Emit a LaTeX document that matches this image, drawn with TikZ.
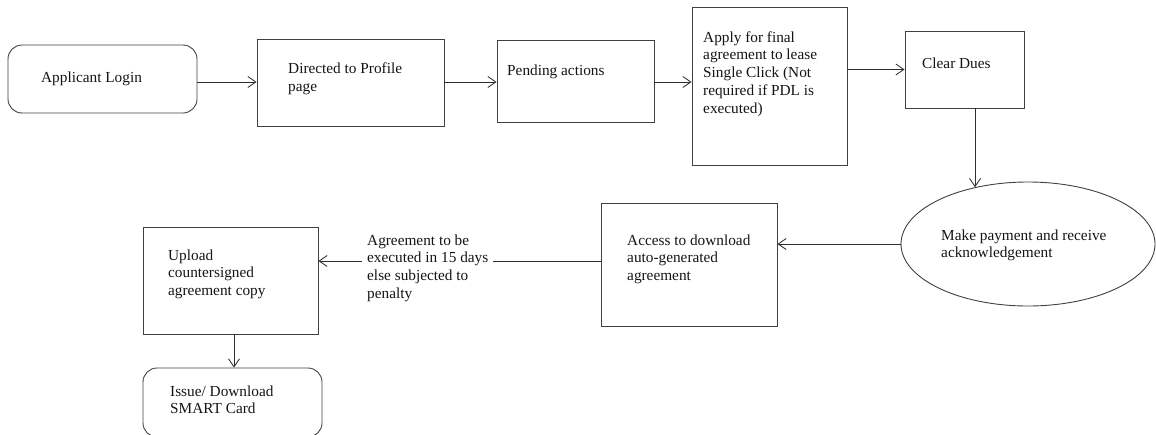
\documentclass[tikz,border=0pt]{standalone}
\usepackage{fontspec}
\setmainfont{Liberation Serif}
\usetikzlibrary{arrows.meta,shapes.geometric}
\newcommand{\topstrut}{\rule{0pt}{12pt}}
\begin{document}
\begin{tikzpicture}[x=1pt,y=-1pt,
  box/.style={draw=black!75, line width=0.9pt, rectangle, inner sep=0pt},
  txt/.style={anchor=north west, inner sep=0pt, align=left, text=black!92, font=\fontsize{15.3}{17.7}\selectfont},
  arr/.style={draw=black!82, line width=0.85pt, -{Straight Barb[length=8pt,width=11pt,line width=0.85pt]}},
  ln/.style={draw=black!82, line width=0.85pt}]
\useasboundingbox (0,0) rectangle (1156,434);
% shapes
\node[box, rounded corners=14pt, minimum width=189pt, minimum height=68pt] (login) at (102.5,79) {};
\node[box, minimum width=187pt, minimum height=87pt] (dir) at (350.5,82.5) {};
\node[box, minimum width=157pt, minimum height=82pt] (pend) at (575.5,81) {};
\node[box, minimum width=155pt, minimum height=158pt] (apply) at (769.5,86) {};
\node[box, minimum width=119pt, minimum height=77pt] (clear) at (964.5,69.5) {};
\node[box, ellipse, minimum width=254pt, minimum height=124pt] (pay) at (1028,244) {};
\node[box, minimum width=176pt, minimum height=123pt] (access) at (689,264.5) {};
\node[box, minimum width=175pt, minimum height=107pt] (upload) at (230.5,280.5) {};
\node[box, rounded corners=14pt, minimum width=179pt, minimum height=69pt] (issue) at (232.5,402.5) {};
% texts
\node[txt] (tlogin) at (41,70) {\topstrut Applicant Login};
\node[txt] (tdir) at (288,61.3) {\topstrut Directed to Profile\\page};
\node[txt] (tpend) at (507,63) {\topstrut Pending actions};
\node[txt] (tapply) at (703,30) {\topstrut Apply for final\\agreement to lease\\Single Click (Not\\required if PDL is\\executed)};
\node[txt] (tclear) at (922,56.3) {\topstrut Clear Dues};
\node[txt] (tpay) at (941,228) {\topstrut Make payment and receive\\acknowledgement};
\node[txt] (taccess) at (627,233) {\topstrut Access to download\\auto-generated\\agreement};
\node[txt, inner xsep=5pt] (lab) at (362,233) {\topstrut Agreement to be\\executed in 15 days\\else subjected to\\penalty};
\node[txt] (tupload) at (168,248) {\topstrut Upload\\countersigned\\agreement copy};
\node[txt] (tissue) at (170,384) {\topstrut Issue/ Download\\SMART Card};
% connectors
\coordinate (r1) at ([yshift=-3pt]login.east);
\draw[arr] (r1) -- (r1 -| dir.west);
\draw[arr] (r1 -| dir.east) -- (r1 -| pend.west);
\draw[arr] (r1 -| pend.east) -- (r1 -| apply.west);
\draw[arr] (apply.east |- clear.west) -- (clear.west);
\draw[arr] (pay.133 |- clear.south) -- (pay.133);
\draw[arr] (pay.west) -- (pay.west -| access.east);
\coordinate (r2) at ([yshift=3.5pt]access.west);
\draw[ln] (r2) -- (r2 -| lab.east);
\draw[arr] (r2 -| lab.west) -- (r2 -| upload.east);
\coordinate (r3) at ([xshift=3.5pt]upload.south);
\draw[arr] (r3) -- (r3 |- issue.north);
\end{tikzpicture}
\end{document}
